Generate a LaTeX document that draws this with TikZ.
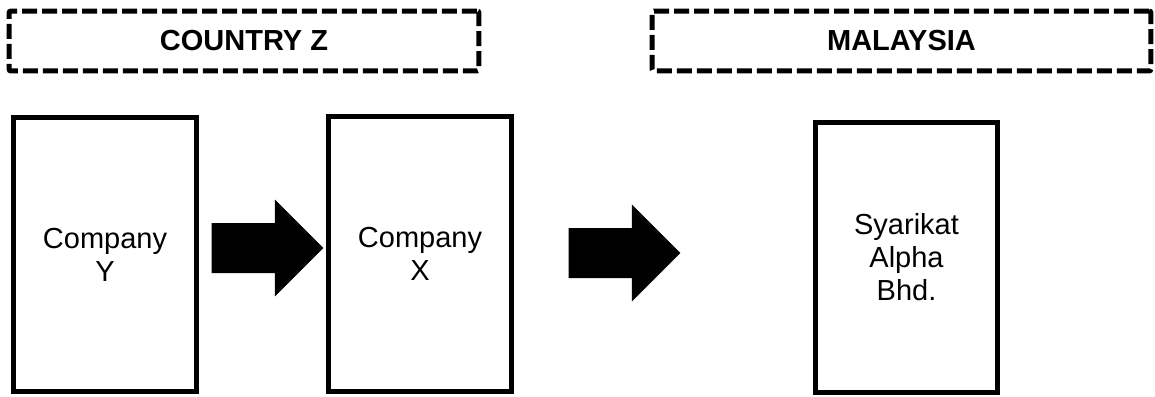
\documentclass[tikz,border=0pt]{standalone}
\usepackage{fontspec}
\setmainfont{Liberation Sans}
\usetikzlibrary{positioning,shapes.arrows}

\begin{document}
\begin{tikzpicture}[x=0.02cm,y=-0.02cm,line width=0.1cm,
                    font=\fontsize{16.5}{18.8}\selectfont]
  \tikzstyle{region}=[draw,dash pattern=on 0.3cm off 0.1cm,rounded corners=0.04cm,
                      minimum height=1.2cm,inner sep=0pt,font=\fontsize{16.5}{18.8}\selectfont\bfseries]
  \tikzstyle{party}=[draw,align=center,inner sep=0pt,minimum width=3.68cm,minimum height=5.5cm]
  \tikzstyle{flow}=[single arrow,fill=black,draw=none,inner xsep=0pt,inner ysep=0.45cm,
                    minimum height=2.24cm,single arrow head extend=0.47cm,anchor=tail]

  \useasboundingbox (0,0) rectangle (1155,396);

  \node[region,minimum width=9.4cm]  (countryz) at (244,41)   {COUNTRY Z};
  \node[region,minimum width=9.98cm] (malaysia) at (901.5,41) {MALAYSIA};

  \node[party] (Y)     at (105,254.5) {Company\\Y};
  \node[party] (X)     at (420,254)   {Company\\X};
  \node[party,minimum width=3.66cm,minimum height=5.42cm]
               (alpha) at (906.5,257.5) {Syarikat\\Alpha\\Bhd.};

  \node[flow] (YtoX)     at (209,248) {};
  \node[flow] (Xtoalpha) at (566,253) {};
\end{tikzpicture}
\end{document}
